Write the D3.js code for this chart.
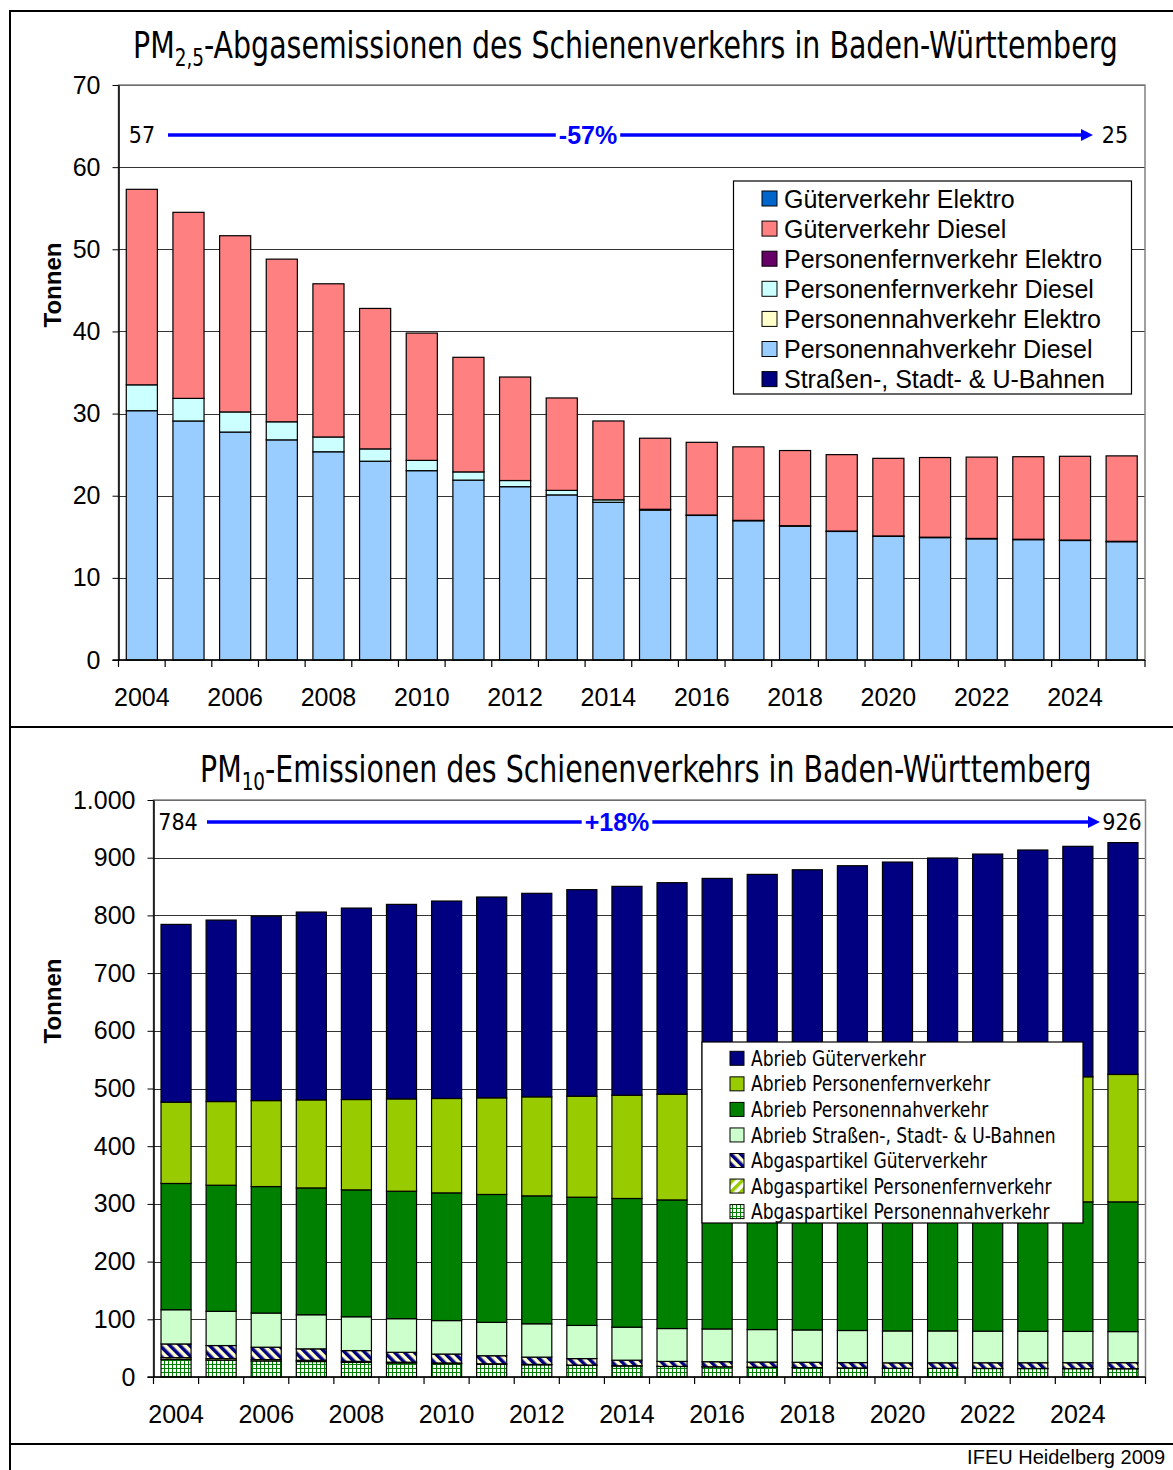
<!DOCTYPE html>
<html>
<head>
<meta charset="utf-8">
<script src="https://cdn.jsdelivr.net/npm/d3@7"></script>
<style>
  body { margin: 0; background: #fff; }
  svg { display: block; }
</style>
</head>
<body>
<svg id="chart" width="1173" height="1470"></svg>
<script>
var SANS = "'Liberation Sans', Arial, sans-serif";
var NARROW = "'Liberation Sans Narrow', 'Arial Narrow', 'DejaVu Sans Condensed', sans-serif";

// categories
var years = [2004, 2005, 2006, 2007, 2008, 2009, 2010, 2011, 2012, 2013, 2014,
             2015, 2016, 2017, 2018, 2019, 2020, 2021, 2022, 2023, 2024, 2025];
var yearLabels = [2004, 2006, 2008, 2010, 2012, 2014, 2016, 2018, 2020, 2022, 2024];

// PM2,5 exhaust (t), stacked bottom -> top
var pm25Strassen      = [0, 0, 0, 0, 0, 0, 0, 0, 0, 0, 0, 0, 0, 0, 0, 0, 0, 0, 0, 0, 0, 0];
var pm25NahDiesel     = [30.35, 29.1, 27.75, 26.8, 25.35, 24.2, 23.05, 21.9, 21.1, 20.1, 19.2,
                         18.25, 17.6, 16.95, 16.3, 15.65, 15.05, 14.9, 14.75, 14.65, 14.55, 14.4];
var pm25NahElektro    = [0, 0, 0, 0, 0, 0, 0, 0, 0, 0, 0, 0, 0, 0, 0, 0, 0, 0, 0, 0, 0, 0];
var pm25FernDiesel    = [3.15, 2.75, 2.45, 2.2, 1.8, 1.5, 1.25, 1.0, 0.75, 0.55, 0.3,
                         0.1, 0.05, 0.05, 0.05, 0.05, 0.05, 0.05, 0.05, 0.05, 0.05, 0.05];
var pm25FernElektro   = [0, 0, 0, 0, 0, 0, 0, 0, 0, 0, 0, 0, 0, 0, 0, 0, 0, 0, 0, 0, 0, 0];
var pm25GueterDiesel  = [23.8, 22.65, 21.45, 19.8, 18.65, 17.1, 15.5, 13.95, 12.6, 11.25, 9.6,
                         8.65, 8.85, 8.95, 9.15, 9.3, 9.45, 9.7, 9.9, 10.05, 10.2, 10.4];
var pm25GueterElektro = [0, 0, 0, 0, 0, 0, 0, 0, 0, 0, 0, 0, 0, 0, 0, 0, 0, 0, 0, 0, 0, 0];

// PM10 (t), stacked bottom -> top
var pm10AbgasNah      = [30.35, 29.1, 27.75, 26.8, 25.35, 24.2, 23.05, 21.9, 21.1, 20.1, 19.2,
                         18.25, 17.6, 16.95, 16.3, 15.65, 15.05, 14.9, 14.75, 14.65, 14.55, 14.4];
var pm10AbgasFern     = [3.15, 2.75, 2.45, 2.2, 1.8, 1.5, 1.25, 1.0, 0.75, 0.55, 0.3,
                         0.1, 0.05, 0.05, 0.05, 0.05, 0.05, 0.05, 0.05, 0.05, 0.05, 0.05];
var pm10AbgasGueter   = [23.8, 22.65, 21.45, 19.8, 18.65, 17.1, 15.5, 13.95, 12.6, 11.25, 9.6,
                         8.65, 8.85, 8.95, 9.15, 9.3, 9.45, 9.7, 9.9, 10.05, 10.2, 10.4];
var pm10AbriebStrassen = [59.3, 59.3, 59.2, 59.1, 58.6, 58.3, 58.0, 57.9, 57.8, 57.5, 57.3,
                          57.0, 56.8, 56.3, 56.1, 55.6, 55.3, 55.2, 54.8, 54.5, 54.2, 53.9];
var pm10AbriebNah     = [218.8, 218.6, 219.2, 219.8, 219.9, 220.9, 221.3, 221.6, 221.7, 222.2, 223.0,
                         222.9, 222.7, 223.2, 223.4, 223.9, 224.2, 224.2, 224.3, 224.4, 224.5, 224.8];
var pm10AbriebFern    = [140.9, 145.0, 149.0, 152.6, 156.6, 160.0, 163.6, 167.5, 171.6, 175.1, 179.0,
                         183.3, 187.5, 191.5, 195.5, 199.5, 203.5, 206.5, 209.7, 213.4, 216.8, 220.8];
var pm10AbriebGueter  = [308.1, 314.5, 319.7, 325.5, 331.8, 337.1, 342.2, 348.0, 352.7, 357.9, 361.9,
                         366.5, 370.6, 374.1, 378.6, 382.1, 384.9, 388.9, 392.8, 396.3, 399.4, 401.8];

var de = d3.formatLocale({decimal: ",", thousands: ".", grouping: [3], currency: ["", " €"], minus: "-"});

var svg = d3.select('#chart');
var defs = svg.append('defs');

// hatch patterns
var pg = defs.append('pattern').attr('id', 'patGueter').attr('patternUnits', 'userSpaceOnUse')
  .attr('width', 7).attr('height', 7).attr('patternTransform', 'rotate(-45)');
pg.append('rect').attr('width', 7).attr('height', 7).attr('fill', '#FFFFCC');
pg.append('rect').attr('width', 3.5).attr('height', 7).attr('fill', '#000080');

var pf = defs.append('pattern').attr('id', 'patFern').attr('patternUnits', 'userSpaceOnUse')
  .attr('width', 7).attr('height', 7).attr('patternTransform', 'rotate(45)');
pf.append('rect').attr('width', 7).attr('height', 7).attr('fill', '#fff');
pf.append('rect').attr('width', 3.5).attr('height', 7).attr('fill', '#99CC00');

var pn = defs.append('pattern').attr('id', 'patNah').attr('patternUnits', 'userSpaceOnUse')
  .attr('width', 4).attr('height', 4);
pn.append('rect').attr('width', 4).attr('height', 4).attr('fill', '#fff');
pn.append('path').attr('d', 'M0,0.5H4M0.5,0V4').attr('stroke', '#008000').attr('stroke-width', 1);

//frame
svg.append('rect').attr('width', 1173).attr('height', 1470).attr('fill', '#fff').lower();
var frame = svg.append('g').attr('stroke', '#000').attr('stroke-width', 2);
frame.append('line').attr('x1', 10).attr('x2', 10).attr('y1', 10).attr('y2', 1470);
frame.append('line').attr('x1', 9).attr('x2', 1180).attr('y1', 11).attr('y2', 11);
frame.append('line').attr('x1', 9).attr('x2', 1180).attr('y1', 727).attr('y2', 727);
frame.append('line').attr('x1', 9).attr('x2', 1180).attr('y1', 1444).attr('y2', 1444);

svg.append('text').attr('x', 1165).attr('y', 1464).attr('text-anchor', 'end')
  .attr('font-family', SANS).attr('font-size', 20).text('IFEU Heidelberg 2009');

function fitWidth(sel, x, y, w) {
  var bw = sel.node().getBBox().width;
  sel.attr('transform', 'translate(' + x + ',' + y + ') scale(' + (w / bw) + ',1)');
}

function drawPanel(c) {
  var g = svg.append('g');
  var x = d3.scaleBand().domain(years).range([c.x0, c.x1]).paddingInner(1 / 3).paddingOuter(1 / 6);
  var y = d3.scaleLinear().domain([0, c.max]).range([c.y1, c.y0]);

  var rows = years.map(function (yr, i) {
    var o = {year: yr};
    c.series.forEach(function (s) { o[s.key] = s.values[i]; });
    return o;
  });
  var stacked = d3.stack().keys(c.series.map(function (s) { return s.key; }))(rows);
  var fills = {};
  c.series.forEach(function (s) { fills[s.key] = s.fill; });

  // title
  var t = g.append('text').attr('font-family', NARROW).attr('font-size', 37).attr('fill', '#000');
  t.append('tspan').text('PM');
  t.append('tspan').attr('font-size', 24).attr('dy', 8).text(c.sub);
  t.append('tspan').attr('dy', -8).text(c.title);
  fitWidth(t, c.titleX, c.titleY, c.titleW);

  // gridlines
  g.selectAll('.grid').data(y.ticks(c.tickCount)).enter().append('line')
    .attr('class', 'grid')
    .attr('x1', c.x0).attr('x2', c.x1)
    .attr('y1', function (d) { return Math.round(y(d)) + 0.5; })
    .attr('y2', function (d) { return Math.round(y(d)) + 0.5; })
    .attr('stroke', '#333').attr('stroke-width', 1);

  g.append('rect').attr('x', c.x0).attr('y', c.y0).attr('width', c.x1 - c.x0).attr('height', c.y1 - c.y0)
    .attr('fill', 'none').attr('stroke', '#808080').attr('stroke-width', 1.5);

  // bars
  g.selectAll('.layer').data(stacked).enter().append('g')
    .attr('class', 'layer')
    .attr('fill', function (d) { return fills[d.key]; })
    .selectAll('rect').data(function (d) { return d; }).enter().append('rect')
    .attr('x', function (d) { return x(d.data.year); })
    .attr('width', x.bandwidth())
    .attr('y', function (d) { return y(d[1]); })
    .attr('height', function (d) { return y(d[0]) - y(d[1]); })
    .attr('stroke', '#000').attr('stroke-width', 1.2);

  // y axis
  var ya = g.append('g').attr('transform', 'translate(' + c.x0 + ',0)')
    .call(d3.axisLeft(y).ticks(c.tickCount).tickSize(6).tickSizeOuter(0).tickPadding(12)
      .tickFormat(de.format(',')));
  ya.select('.domain').attr('stroke', '#000').attr('stroke-width', 1.5);
  ya.selectAll('text').attr('font-family', SANS).attr('font-size', 25).attr('fill', '#000');

  // x axis, ticks between categories
  var xa = g.append('g').attr('transform', 'translate(0,' + c.y1 + ')')
    .call(d3.axisBottom(x).tickValues(yearLabels).tickSize(0).tickPadding(28));
  xa.select('.domain').remove();
  xa.selectAll('text').attr('font-family', SANS).attr('font-size', 25).attr('fill', '#000');
  g.selectAll('.xtick').data(d3.range(years.length + 1)).enter().append('line')
    .attr('x1', function (k) { return c.x0 + k * x.step(); })
    .attr('x2', function (k) { return c.x0 + k * x.step(); })
    .attr('y1', c.y1).attr('y2', c.y1 + 7)
    .attr('stroke', '#000').attr('stroke-width', 1.2);
  g.append('line').attr('x1', c.x0 - 6).attr('x2', c.x1).attr('y1', c.y1).attr('y2', c.y1)
    .attr('stroke', '#000').attr('stroke-width', 1.5);

  g.append('text').attr('transform', 'translate(' + c.axisTitleX + ',' + c.axisTitleY + ') rotate(-90)')
    .attr('text-anchor', 'middle').attr('font-family', SANS).attr('font-weight', 'bold')
    .attr('font-size', 24).text('Tonnen');

  // trend annotation
  var first = d3.sum(c.series, function (s) { return s.values[0]; });
  var last = d3.sum(c.series, function (s) { return s.values[years.length - 1]; });
  var a = c.annot;
  g.append('line').attr('x1', a.x1).attr('x2', a.x2 - 10).attr('y1', a.y).attr('y2', a.y)
    .attr('stroke', '#0000FF').attr('stroke-width', 3.5);
  g.append('path').attr('d', 'M' + (a.x2 - 12) + ',' + (a.y - 6) + 'L' + a.x2 + ',' + a.y + 'L' + (a.x2 - 12) + ',' + (a.y + 6) + 'Z')
    .attr('fill', '#0000FF');
  var pct = g.append('text').attr('x', a.pctX).attr('y', a.y).attr('dy', '0.36em')
    .attr('text-anchor', 'middle').attr('font-family', SANS).attr('font-weight', 'bold')
    .attr('font-size', 25).attr('fill', '#0000FF').text(de.format('+.0%')(last / first - 1));
  var bb = pct.node().getBBox();
  g.insert('rect', function () { return pct.node(); })
    .attr('x', bb.x - 3).attr('y', a.y - 6).attr('width', bb.width + 6).attr('height', 12).attr('fill', '#fff');
  g.append('text').attr('x', a.leftX).attr('y', a.y).attr('dy', '0.36em').attr('text-anchor', 'middle')
    .attr('font-family', NARROW).attr('font-size', 23).text(d3.format('.0f')(first));
  g.append('text').attr('x', a.rightX).attr('y', a.y).attr('dy', '0.36em').attr('text-anchor', 'middle')
    .attr('font-family', NARROW).attr('font-size', 23).text(d3.format('.0f')(last));

  // legend
  var L = c.legend;
  var lg = g.append('g');
  lg.append('rect').attr('x', L.x).attr('y', L.y).attr('width', L.w).attr('height', L.h)
    .attr('fill', '#fff').attr('stroke', '#000').attr('stroke-width', 1.2);
  var items = c.series.slice().reverse();
  var scaleX = 1;
  if (L.fitText) {
    var probe = lg.append('text').attr('font-family', L.font).attr('font-size', L.size).text(L.fitText);
    scaleX = L.fitW / probe.node().getBBox().width;
    probe.remove();
  }
  items.forEach(function (s, i) {
    var cy = L.firstY + i * L.rowH;
    lg.append('rect').attr('x', L.swX).attr('y', cy - L.sw / 2).attr('width', L.sw).attr('height', L.sw)
      .attr('fill', s.fill).attr('stroke', '#000').attr('stroke-width', 1);
    lg.append('text').attr('transform', 'translate(' + L.textX + ',' + cy + ') scale(' + scaleX + ',1)')
      .attr('dy', '0.36em').attr('font-family', L.font).attr('font-size', L.size).text(s.name);
  });
}

drawPanel({
  x0: 118.5, x1: 1145, y0: 85, y1: 660, max: 70, tickCount: 7,
  sub: '2,5', title: '-Abgasemissionen des Schienenverkehrs in Baden-Württemberg',
  titleX: 133, titleY: 58, titleW: 985,
  axisTitleX: 61, axisTitleY: 285,
  annot: {y: 135, x1: 168, x2: 1093, pctX: 588, leftX: 142, rightX: 1115},
  series: [
    {key: 'str', name: 'Straßen-, Stadt- & U-Bahnen', values: pm25Strassen, fill: '#000080'},
    {key: 'pnd', name: 'Personennahverkehr Diesel', values: pm25NahDiesel, fill: '#99CCFF'},
    {key: 'pne', name: 'Personennahverkehr Elektro', values: pm25NahElektro, fill: '#FFFFCC'},
    {key: 'pfd', name: 'Personenfernverkehr Diesel', values: pm25FernDiesel, fill: '#CCFFFF'},
    {key: 'pfe', name: 'Personenfernverkehr Elektro', values: pm25FernElektro, fill: '#660066'},
    {key: 'gvd', name: 'Güterverkehr Diesel', values: pm25GueterDiesel, fill: '#FF8080'},
    {key: 'gve', name: 'Güterverkehr Elektro', values: pm25GueterElektro, fill: '#0066CC'}
  ],
  legend: {x: 733.5, y: 181, w: 398, h: 213, firstY: 198.5, rowH: 30.1, sw: 15, swX: 762,
           textX: 784, font: SANS, size: 25}
});

drawPanel({
  x0: 153.5, x1: 1145.5, y0: 800, y1: 1377, max: 1000, tickCount: 10,
  sub: '10', title: '-Emissionen des Schienenverkehrs in Baden-Württemberg',
  titleX: 200, titleY: 782, titleW: 892,
  axisTitleX: 61, axisTitleY: 1001,
  annot: {y: 822, x1: 207, x2: 1100, pctX: 617, leftX: 178, rightX: 1122},
  series: [
    {key: 'apn', name: 'Abgaspartikel Personennahverkehr', values: pm10AbgasNah, fill: 'url(#patNah)'},
    {key: 'apf', name: 'Abgaspartikel Personenfernverkehr', values: pm10AbgasFern, fill: 'url(#patFern)'},
    {key: 'apg', name: 'Abgaspartikel Güterverkehr', values: pm10AbgasGueter, fill: 'url(#patGueter)'},
    {key: 'abs', name: 'Abrieb Straßen-, Stadt- & U-Bahnen', values: pm10AbriebStrassen, fill: '#CCFFCC'},
    {key: 'abn', name: 'Abrieb Personennahverkehr', values: pm10AbriebNah, fill: '#008000'},
    {key: 'abf', name: 'Abrieb Personenfernverkehr', values: pm10AbriebFern, fill: '#99CC00'},
    {key: 'abg', name: 'Abrieb Güterverkehr', values: pm10AbriebGueter, fill: '#000080'}
  ],
  legend: {x: 702, y: 1042, w: 381, h: 181, firstY: 1058.3, rowH: 25.55, sw: 14, swX: 730,
           textX: 751, font: NARROW, size: 21,
           fitText: 'Abgaspartikel Personenfernverkehr', fitW: 301}
});
</script>
</body>
</html>
